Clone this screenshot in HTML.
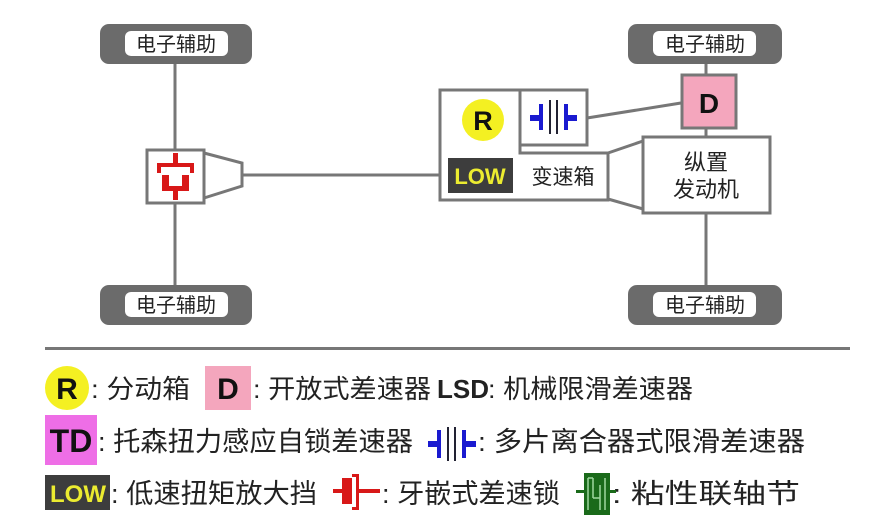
<!DOCTYPE html>
<html><head><meta charset="utf-8"><style>
html,body{margin:0;padding:0;background:#fff;}
svg{display:block;}
text{font-family:"Liberation Sans","Noto Sans CJK SC",sans-serif;}
</style></head><body>
<svg width="869" height="525" viewBox="0 0 869 525" xmlns="http://www.w3.org/2000/svg">
<g stroke="#777" stroke-width="3" fill="none">
<line x1="175" y1="62" x2="175" y2="288"/>
<line x1="242" y1="175" x2="440" y2="175"/>
<line x1="706" y1="62" x2="706" y2="76"/>
<line x1="706" y1="128" x2="706" y2="137"/>
<line x1="706" y1="213" x2="706" y2="288"/>
<line x1="587" y1="118" x2="681" y2="103"/>
<line x1="608" y1="153" x2="643" y2="141"/>
<line x1="608" y1="199" x2="643" y2="209"/>
</g>
<g>
<rect x="100" y="24" width="152" height="40" rx="9" fill="#6b6b6b"/>
<rect x="125" y="31" width="103" height="25" rx="6" fill="#fff"/>
<rect x="100" y="285" width="152" height="40" rx="9" fill="#6b6b6b"/>
<rect x="125" y="292" width="103" height="25" rx="6" fill="#fff"/>
<rect x="628" y="24" width="154" height="40" rx="9" fill="#6b6b6b"/>
<rect x="653" y="31" width="103" height="25" rx="6" fill="#fff"/>
<rect x="628" y="285" width="154" height="40" rx="9" fill="#6b6b6b"/>
<rect x="653" y="292" width="103" height="25" rx="6" fill="#fff"/>
</g>
<g font-size="20" fill="#222" text-anchor="middle">
<text x="176" y="51">电子辅助</text>
<text x="176" y="312">电子辅助</text>
<text x="705" y="51">电子辅助</text>
<text x="705" y="312">电子辅助</text>
</g>
<rect x="147" y="150" width="57" height="53" fill="#fff" stroke="#777" stroke-width="3"/>
<polygon points="204,153 242,163 242,186 204,198" fill="#fff" stroke="#777" stroke-width="3"/>
<g fill="#d81818">
<rect x="173" y="153" width="5" height="12"/>
<rect x="157" y="163" width="37" height="4"/>
<rect x="157" y="163" width="4" height="10"/>
<rect x="190" y="163" width="4" height="10"/>
<rect x="162" y="175" width="7" height="15"/>
<rect x="182" y="175" width="7" height="15"/>
<rect x="162" y="186" width="27" height="5"/>
<rect x="173" y="186" width="5" height="14"/>
</g>
<path d="M440 90 H587 V145 H520 V153 H608 V200 H440 Z" fill="#fff" stroke="#777" stroke-width="3"/>
<line x1="520" y1="90" x2="520" y2="153" stroke="#777" stroke-width="3"/>
<rect x="520" y="90" width="67" height="55" fill="#fff" stroke="#777" stroke-width="3"/>
<g fill="#1a1ad0">
<rect x="530" y="115" width="10" height="6"/><rect x="539" y="104" width="4" height="26"/>
<rect x="549" y="100" width="2" height="34" fill="#223"/><rect x="556" y="100" width="2" height="34" fill="#223"/>
<rect x="564" y="104" width="4" height="26"/><rect x="567" y="115" width="10" height="6"/>
</g>
<circle cx="483" cy="120" r="21" fill="#f4f022"/>
<text x="483" y="130" font-size="27" font-weight="bold" text-anchor="middle" fill="#111">R</text>
<rect x="448" y="158" width="65" height="35" fill="#3d3d3d"/>
<text x="480" y="184" font-size="22" font-weight="bold" text-anchor="middle" fill="#ecec30">LOW</text>
<text x="563" y="184" font-size="21" text-anchor="middle" fill="#222">变速箱</text>
<rect x="643" y="137" width="127" height="76" fill="#fff" stroke="#777" stroke-width="3"/>
<text x="706" y="170" font-size="22" text-anchor="middle" fill="#222">纵置</text>
<text x="706" y="197" font-size="22" text-anchor="middle" fill="#222">发动机</text>
<rect x="682" y="75" width="54" height="53" fill="#f4a6bd" stroke="#777" stroke-width="3"/>
<text x="709" y="113" font-size="28" font-weight="bold" text-anchor="middle" fill="#111">D</text>
<rect x="45" y="347" width="805" height="3" fill="#777"/>
<circle cx="67" cy="388" r="22" fill="#f4f022"/>
<text x="67" y="399" font-size="30" font-weight="bold" text-anchor="middle" fill="#111">R</text>
<rect x="205" y="366" width="46" height="44" fill="#f4a6bd"/>
<text x="228" y="399" font-size="30" font-weight="bold" text-anchor="middle" fill="#111">D</text>
<g font-size="26" fill="#222">
<text x="91" y="398" textLength="99" lengthAdjust="spacingAndGlyphs">: 分动箱</text>
<text x="253" y="398" textLength="178" lengthAdjust="spacingAndGlyphs">: 开放式差速器</text>
<text x="437" y="398" font-weight="bold">LSD</text>
<text x="488" y="398" textLength="205" lengthAdjust="spacingAndGlyphs">: 机械限滑差速器</text>
</g>
<rect x="45" y="415" width="52" height="50" fill="#ee6ee6"/>
<text x="71" y="452" font-size="32" font-weight="bold" text-anchor="middle" fill="#111">TD</text>
<g font-size="27" fill="#222">
<text x="98" y="451" textLength="315" lengthAdjust="spacingAndGlyphs">: 托森扭力感应自锁差速器</text>
<text x="478" y="451" textLength="327" lengthAdjust="spacingAndGlyphs">: 多片离合器式限滑差速器</text>
</g>
<g fill="#1a1ad0">
<rect x="428" y="441" width="10" height="6"/><rect x="437" y="430" width="4" height="28"/>
<rect x="447" y="427" width="2" height="34" fill="#223"/><rect x="454" y="427" width="2" height="34" fill="#223"/>
<rect x="462" y="430" width="4" height="28"/><rect x="465" y="441" width="11" height="6"/>
</g>
<rect x="45" y="475" width="65" height="35" fill="#3d3d3d"/>
<text x="78" y="502" font-size="24" font-weight="bold" text-anchor="middle" fill="#ecec30">LOW</text>
<g font-size="27" fill="#222">
<text x="111" y="503" textLength="206" lengthAdjust="spacingAndGlyphs">: 低速扭矩放大挡</text>
<text x="382" y="503" textLength="178" lengthAdjust="spacingAndGlyphs">: 牙嵌式差速锁</text>
<text x="612" y="503" textLength="188" lengthAdjust="spacingAndGlyphs">: 粘性联轴节</text>
</g>
<g fill="#d81818">
<rect x="333" y="489" width="10" height="4"/>
<rect x="342" y="478" width="10" height="26"/>
<rect x="356" y="474" width="3" height="36"/><rect x="352" y="474" width="6" height="3"/><rect x="352" y="507" width="6" height="3"/>
<rect x="358" y="489" width="22" height="4"/>
</g>
<g>
<rect x="576" y="490" width="8" height="3" fill="#1a6a1a"/>
<rect x="584" y="473" width="26" height="42" fill="#1a6a1a"/>
<path d="M588 478 V510 M593 478 V498 M600 485 V510 M605 478 V510 M593 498 H600 M588 478 H593" stroke="#9fd79f" stroke-width="1.5" fill="none"/>
<rect x="610" y="490" width="6" height="3" fill="#1a6a1a"/>
</g>
</svg>
</body></html>
